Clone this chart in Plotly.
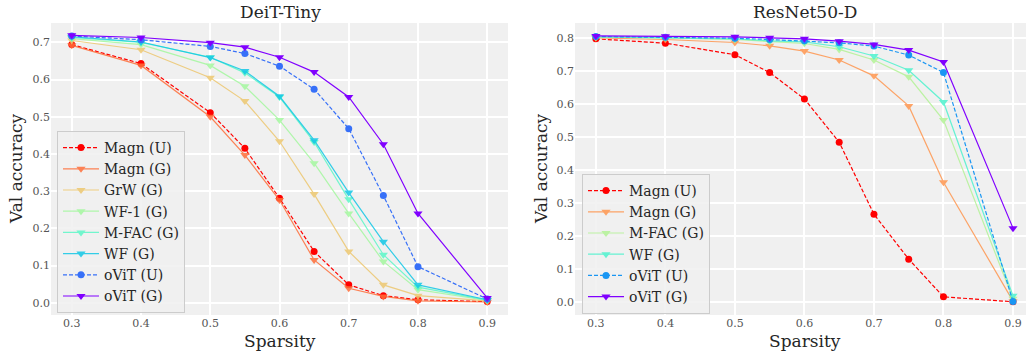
import plotly.graph_objects as go

# Sparsity levels shared by both models
sparsity = [0.3, 0.4, 0.5, 0.55, 0.6, 0.65, 0.7, 0.75, 0.8, 0.9]

# DeiT-Tiny validation accuracy
deit_names = ["Magn (U)", "Magn (G)", "GrW (G)", "WF-1 (G)", "M-FAC (G)", "WF (G)", "oViT (U)", "oViT (G)"]
deit_magn_u = [0.694, 0.643, 0.511, 0.415, 0.281, 0.138, 0.048, 0.019, 0.008, 0.003]
deit_magn_g = [0.692, 0.638, 0.500, 0.397, 0.276, 0.115, 0.039, 0.017, 0.005, 0.002]
deit_grw_g = [0.705, 0.680, 0.605, 0.542, 0.434, 0.292, 0.138, 0.048, 0.019, 0.005]
deit_wf1_g = [0.710, 0.694, 0.638, 0.582, 0.491, 0.375, 0.240, 0.111, 0.035, 0.006]
deit_mfac_g = [0.713, 0.700, 0.660, 0.618, 0.553, 0.432, 0.278, 0.129, 0.042, 0.007]
deit_wf_g = [0.715, 0.701, 0.659, 0.623, 0.555, 0.437, 0.296, 0.164, 0.048, 0.008]
deit_ovit_u = [0.717, 0.707, 0.689, 0.670, 0.636, 0.574, 0.468, 0.288, 0.097, 0.010]
deit_ovit_g = [0.719, 0.713, 0.699, 0.687, 0.660, 0.620, 0.553, 0.426, 0.240, 0.013]

# ResNet50-D validation accuracy
rn_names = ["Magn (U)", "Magn (G)", "M-FAC (G)", "WF (G)", "oViT (U)", "oViT (G)"]
rn_magn_u = [0.797, 0.784, 0.749, 0.695, 0.615, 0.484, 0.266, 0.130, 0.016, 0.001]
rn_magn_g = [0.800, 0.795, 0.786, 0.776, 0.760, 0.733, 0.685, 0.594, 0.363, 0.003]
rn_mfac_g = [0.802, 0.800, 0.795, 0.788, 0.783, 0.765, 0.733, 0.682, 0.551, 0.010]
rn_wf_g = [0.803, 0.801, 0.797, 0.791, 0.788, 0.773, 0.745, 0.702, 0.606, 0.019]
rn_ovit_u = [0.804, 0.802, 0.799, 0.795, 0.791, 0.785, 0.775, 0.748, 0.695, 0.002]
rn_ovit_g = [0.806, 0.805, 0.803, 0.800, 0.797, 0.790, 0.780, 0.763, 0.727, 0.224]

deit_series = [deit_magn_u, deit_magn_g, deit_grw_g, deit_wf1_g, deit_mfac_g, deit_wf_g, deit_ovit_u, deit_ovit_g]
rn_series = [rn_magn_u, rn_magn_g, rn_mfac_g, rn_wf_g, rn_ovit_u, rn_ovit_g]

# rainbow colormap samples (red -> violet)
deit_colors = ["#ff0000", "#ff6e39", "#edc76f", "#a4f89f", "#5bf8c7", "#12c7e6", "#3770f8", "#8000ff"]
rn_colors = ["#ff0000", "#ff964f", "#b3f396", "#4df3ce", "#1996f3", "#8000ff"]

FONT = "DejaVu Serif"
BG = "#f0f0f0"
TEXT = "#262626"

fig = go.Figure()


def add_series(names, series, colors, xa, ya, legend):
    for name, vals, col in zip(names, series, colors):
        unpruned = "(U)" in name
        strong = unpruned or name == "oViT (G)"
        fig.add_trace(go.Scatter(
            x=sparsity, y=vals, name=name, mode="lines+markers",
            xaxis=xa, yaxis=ya, legend=legend,
            opacity=1.0 if strong else 0.85,
            line=dict(color=col, width=1.2, dash="4px,2px" if unpruned else "solid"),
            marker=dict(color=col, size=7 if unpruned else 8,
                        symbol="circle" if unpruned else "triangle-down",
                        line=dict(width=0)),
        ))


add_series(deit_names, deit_series, deit_colors, "x", "y", "legend")
add_series(rn_names, rn_series, rn_colors, "x2", "y2", "legend2")

W, H = 1026, 352


def px_x(p):
    return p / W


def px_y(p):
    return 1 - p / H


axis_common = dict(
    showgrid=True, gridcolor="white", gridwidth=1.5, zeroline=False,
    showline=False, ticks="", tickfont=dict(family=FONT, size=11, color="#555555"),
)
xticks = [0.3, 0.4, 0.5, 0.6, 0.7, 0.8, 0.9]
xlabels = ["0.3", "0.4", "0.5", "0.6", "0.7", "0.8", "0.9"]

legend_common = dict(
    xanchor="left", yanchor="top",
    bgcolor="rgba(240,240,240,0.85)", bordercolor="#cccccc", borderwidth=1,
    font=dict(family=FONT, size=14, color=TEXT), tracegroupgap=0, itemwidth=36,
)

fig.update_layout(
    width=W, height=H,
    margin=dict(l=0, r=0, t=0, b=0),
    paper_bgcolor="white",
    plot_bgcolor=BG,
    font=dict(family=FONT),
    xaxis=dict(domain=[px_x(51), px_x(508)], range=[0.27, 0.93],
               tickvals=xticks, ticktext=xlabels, anchor="y", **axis_common),
    yaxis=dict(domain=[px_y(315), px_y(23)], range=[-0.033, 0.752],
               tickvals=[0, 0.1, 0.2, 0.3, 0.4, 0.5, 0.6, 0.7],
               ticktext=["0.0", "0.1", "0.2", "0.3", "0.4", "0.5", "0.6", "0.7"],
               anchor="x", **axis_common),
    xaxis2=dict(domain=[px_x(575), 1.0], range=[0.27, 0.9 + 13 / 695],
                tickvals=xticks, ticktext=xlabels, anchor="y2", **axis_common),
    yaxis2=dict(domain=[px_y(315), px_y(23)], range=[-0.039, 0.845],
                tickvals=[0, 0.1, 0.2, 0.3, 0.4, 0.5, 0.6, 0.7, 0.8],
                ticktext=["0.0", "0.1", "0.2", "0.3", "0.4", "0.5", "0.6", "0.7", "0.8"],
                anchor="x2", **axis_common),
    legend=dict(x=px_x(57), y=px_y(131), **legend_common),
    legend2=dict(x=px_x(582), y=px_y(174), **legend_common),
    showlegend=True,
)

annotations = [
    dict(text="DeiT-Tiny", x=px_x(280), y=px_y(12), size=17),
    dict(text="ResNet50-D", x=px_x(805), y=px_y(12), size=17),
    dict(text="Sparsity", x=px_x(280), y=px_y(341), size=17),
    dict(text="Sparsity", x=px_x(805), y=px_y(341), size=17),
]
for a in annotations:
    fig.add_annotation(text=a["text"], x=a["x"], y=a["y"], xref="paper", yref="paper",
                       xanchor="center", yanchor="middle", showarrow=False,
                       font=dict(family=FONT, size=a["size"], color=TEXT))
for xp in (16, 541):
    fig.add_annotation(text="Val accuracy", x=px_x(xp), y=px_y(169), xref="paper", yref="paper",
                       xanchor="center", yanchor="middle", showarrow=False, textangle=-90,
                       font=dict(family=FONT, size=17, color=TEXT))

fig.write_html("out.html")
